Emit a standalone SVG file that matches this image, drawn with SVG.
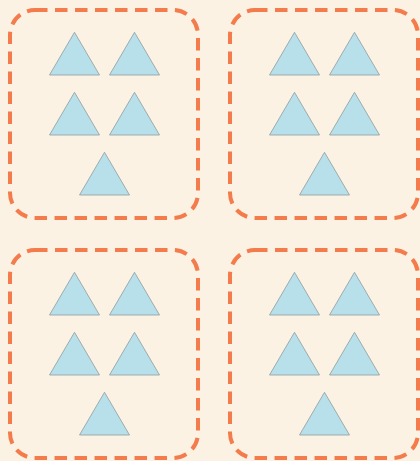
<svg xmlns="http://www.w3.org/2000/svg" width="420" height="461" viewBox="0 0 420 461">
<style>
.box{fill:none;stroke:#F47B4B;stroke-width:4;stroke-dasharray:12.5 7.5}
.tri{fill:#B8E0EA;stroke:#8E9C9E;stroke-width:0.8}
</style>
<defs>
<g id="grp">
<rect class="box" x="10" y="10" width="188" height="208" rx="25"/>
<polygon class="tri" points="74.5,32.3 49.5,75 99.5,75"/>
<polygon class="tri" points="134.5,32.3 109.5,75 159.5,75"/>
<polygon class="tri" points="74.5,92.3 49.5,135 99.5,135"/>
<polygon class="tri" points="134.5,92.3 109.5,135 159.5,135"/>
<polygon class="tri" points="104.5,152.3 79.5,195 129.5,195"/>
</g>
</defs>
<rect width="420" height="461" fill="#FBF2E4"/>
<g id="group1"><use href="#grp"/></g>
<g id="group2"><use href="#grp" x="220"/></g>
<g id="group3"><use href="#grp" y="240"/></g>
<g id="group4"><use href="#grp" x="220" y="240"/></g>
<g id="connectors"/>
</svg>
